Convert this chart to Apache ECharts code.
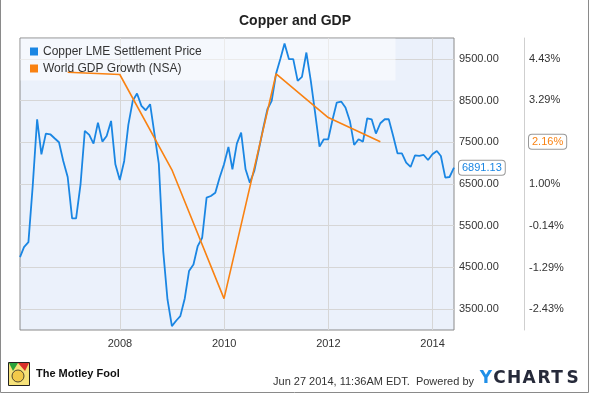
<!DOCTYPE html>
<html><head><meta charset="utf-8">
<script src="https://cdn.jsdelivr.net/npm/echarts@6/dist/echarts.min.js"></script>
<style>html,body{margin:0;padding:0;background:#fff}#c{width:590px;height:394px}</style>
</head><body><div id="c"></div>
<script>
// ---- data ----
const copperName = 'Copper LME Settlement Price';
const gdpName = 'World GDP Growth (NSA)';
// monthly copper prices, one per month from Jan 2006 to May 2014
const copperFirstYear = 2006;
const copperPrices = [
  4748, 4988, 5108, 6450, 8052, 7212, 7708, 7692, 7596, 7500,
  7052, 6668, 5676, 5676, 6492, 7772, 7676, 7468, 7972, 7516,
  7652, 8012, 6972, 6596, 7052, 7916, 8492, 8668, 8372, 8268,
  8412, 7692, 6988, 4892, 3732, 3092, 3228, 3332, 3756, 4412,
  4572, 5012, 5212, 6172, 6212, 6292, 6652, 6972, 7388, 6852,
  7468, 7732, 6852, 6532, 6812, 7308, 7812, 8292, 8492, 9148,
  9516, 9868, 9492, 9492, 8972, 9068, 9652, 8972, 8212, 7396,
  7572, 7572, 8052, 8452, 8476, 8332, 8012, 7436, 7572, 7516,
  8076, 8052, 7708, 7956, 8052, 8052, 7652, 7236, 7236, 7012,
  6908, 7188, 7172, 7196, 7076, 7212, 7292, 7172, 6652, 6668,
  6891.13
];
const gdpDates = ['2006-12-31','2007-12-31','2008-12-31','2009-12-31','2010-12-31','2011-12-31','2012-12-31'];
const gdpGrowth = [4.06, 4.00, 1.39, -2.14, 4.02, 2.82, 2.16];
const yearTicks = [2008, 2010, 2012, 2014];
const priceTicks = [3500, 4500, 5500, 6500, 7500, 8500, 9500];
const pctTicks = [-2.43, -1.29, -0.14, 1.00, 3.29, 4.43];
const lastPrice = 6891.13;
const lastGdp = 2.16;

// ---- build ----
const FONT = 'Liberation Sans, Arial, sans-serif';
const BLUE = '#1a86e3';
const ORANGE = '#f98212';
// date -> fractional year (position on the time scale)
function yearFrac(d){
  const y = d.getFullYear();
  const s = new Date(y, 0, 1).getTime(), e = new Date(y + 1, 0, 1).getTime();
  return y + (d.getTime() - s) / (e - s);
}
function parseDate(s){ const p = s.split('-'); return new Date(+p[0], +p[1]-1, +p[2]); }
const copperData = copperPrices.map((v, i) => [yearFrac(new Date(copperFirstYear, i + 1, 0)), v]);
const gdpData = gdpDates.map((d, i) => [yearFrac(parseDate(d)), gdpGrowth[i]]);

const chart = echarts.init(document.getElementById('c'), null, {renderer: 'canvas'});
const ycLetters = ['Y','C','H','A','R','T','S'];
const ycX = [486, 499.5, 514, 529, 544, 557, 572.5];

chart.setOption({
  animation: false,
  title: {
    text: 'Copper and GDP', left: 'center', top: 9,
    textStyle: {fontFamily: FONT, fontSize: 14, fontWeight: 'bold', color: '#222'}
  },
  grid: {left: 20, top: 38, right: 136, bottom: 64, show: true,
    backgroundColor: '#ebf1fb', borderColor: '#8a8a8a', borderWidth: 1},
  legend: {
    left: 30, top: 45, orient: 'vertical', padding: 0, itemGap: 4,
    itemWidth: 8, itemHeight: 8, icon: 'rect',
    textStyle: {fontFamily: FONT, fontSize: 12, lineHeight: 13, color: '#333'},
    data: [copperName, gdpName]
  },
  xAxis: {
    type: 'value',
    min: yearFrac(new Date(2006, 0, 31)),
    max: yearFrac(new Date(2014, 4, 31)),
    axisLine: {show: false},
    axisTick: {show: false, customValues: yearTicks},
    axisLabel: {customValues: yearTicks, formatter: v => String(Math.round(v)),
      fontFamily: FONT, fontSize: 11, color: '#333', margin: 8},
    splitLine: {show: true, lineStyle: {color: '#d6d6d6'}}
  },
  yAxis: [{
    type: 'value', position: 'right', min: 3000, max: 10000,
    axisLine: {show: false},
    axisTick: {show: false, customValues: priceTicks},
    axisLabel: {customValues: priceTicks, formatter: v => v.toFixed(2),
      fontFamily: FONT, fontSize: 11, color: '#333', margin: 5},
    splitLine: {show: true, lineStyle: {color: '#d6d6d6'}},
    axisPointer: {show: true, type: 'line', value: lastPrice, status: 'show', triggerTooltip: false,
      lineStyle: {opacity: 0},
      label: {show: true, formatter: p => Number(p.value).toFixed(2), margin: 5,
        fontFamily: FONT, fontSize: 11, color: BLUE, backgroundColor: '#fff',
        borderColor: '#999', borderWidth: 1, padding: [2, 3, 1, 3], shadowBlur: 0}}
  }, {
    type: 'value', position: 'right', offset: 70, min: -3, max: 5,
    axisLine: {show: true, lineStyle: {color: '#cfcfcf'}},
    axisTick: {show: false, customValues: pctTicks},
    axisLabel: {customValues: pctTicks, formatter: v => v.toFixed(2) + '%',
      fontFamily: FONT, fontSize: 11, color: '#333', margin: 5},
    splitLine: {show: false},
    axisPointer: {show: true, type: 'line', value: lastGdp, status: 'show', triggerTooltip: false,
      lineStyle: {opacity: 0},
      label: {show: true, formatter: p => Number(p.value).toFixed(2) + '%', margin: 5,
        fontFamily: FONT, fontSize: 11, color: ORANGE, backgroundColor: '#fff',
        borderColor: '#999', borderWidth: 1, padding: [2, 3, 1, 3], shadowBlur: 0}}
  }],
  series: [{
    name: copperName, type: 'line', yAxisIndex: 0, data: copperData,
    showSymbol: false, symbol: 'none', color: BLUE,
    lineStyle: {width: 1.8, color: BLUE}
  }, {
    name: gdpName, type: 'line', yAxisIndex: 1, data: gdpData,
    showSymbol: false, symbol: 'none', color: ORANGE,
    lineStyle: {width: 1.6, color: ORANGE}
  }],
  graphic: [
    {type: 'rect', z: 3, silent: true,
      shape: {x: 20.5, y: 38.5, width: 375, height: 42},
      style: {fill: 'rgba(255,255,255,0.5)'}},
    {type: 'polyline', z: 10, silent: true,
      shape: {points: [[0.5, 0], [0.5, 392.5], [588.5, 392.5], [588.5, 0]]},
      style: {stroke: '#8a8a8a', lineWidth: 1, fill: null}},
    // Motley Fool mark
    {type: 'rect', shape: {x: 8.5, y: 362.5, width: 21, height: 23},
      style: {fill: '#f6e27a', stroke: '#222', lineWidth: 1}},
    {type: 'polygon', shape: {points: [[9, 363], [18, 363], [13, 371]]}, style: {fill: '#2aa23a'}},
    {type: 'polygon', shape: {points: [[18, 363], [29, 363], [25, 371]]}, style: {fill: '#d8302a'}},
    {type: 'circle', shape: {cx: 18, cy: 376, r: 6}, style: {fill: '#f2c94a', stroke: '#222', lineWidth: 0.8}},
    {type: 'text', x: 36, y: 374,
      style: {text: 'The Motley Fool', fontFamily: FONT, fontSize: 11, fontWeight: 'bold', fill: '#111', textVerticalAlign: 'middle'}},
    {type: 'text', x: 474, y: 382,
      style: {text: 'Jun 27 2014, 11:36AM EDT.  Powered by', fontFamily: FONT, fontSize: 11, fill: '#333', textAlign: 'right', textVerticalAlign: 'middle'}}
  ].concat(ycLetters.map((ch, i) => ({
    type: 'text', x: ycX[i], y: 379,
    style: {text: ch, fontFamily: 'DejaVu Sans, sans-serif', fontSize: 17, fontWeight: 'bold',
      fill: i === 0 ? '#1f8fe8' : '#262a3a', textAlign: 'center', textVerticalAlign: 'middle'}
  })))
});
</script></body></html>
